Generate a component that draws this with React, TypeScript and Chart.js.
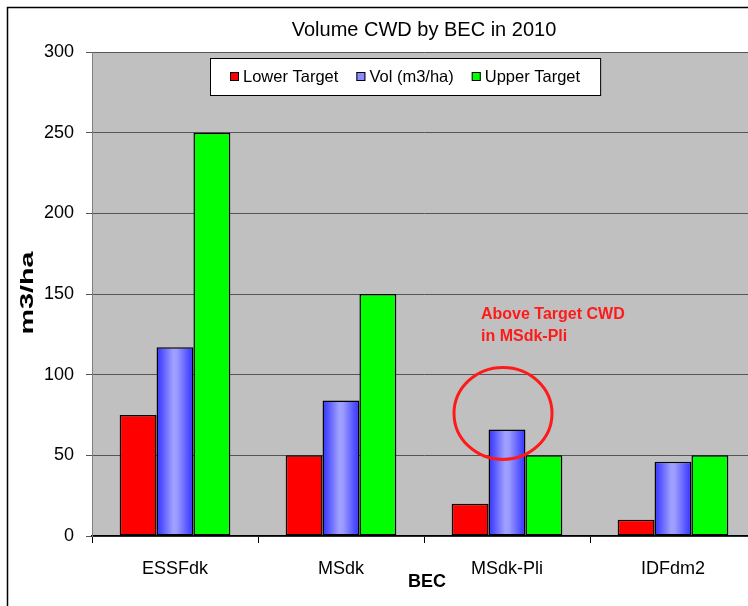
import React, { useEffect, useRef } from "react";
import { Chart, registerables } from "chart.js";

Chart.register(...registerables);

const categories = ["ESSFdk", "MSdk", "MSdk-Pli", "IDFdm2"];
const lowerTarget = [75, 50, 20, 10];
const volume = [117, 84, 66, 46];
const upperTarget = [250, 150, 50, 50];
const seriesLabels = ["Lower Target", "Vol (m3/ha)", "Upper Target"];
const seriesColors = ["#ff0000", "#8c8cff", "#00ff00"];
const yTicks = [0, 50, 100, 150, 200, 250, 300];
const titleText = "Volume CWD by BEC in 2010";
const xTitle = "BEC";
const yTitle = "m3/ha";
const noteLines = ["Above Target CWD", "in MSdk-Pli"];
const noteCategory = "MSdk-Pli";
const noteCircleValue = 76;
const noteTextValue = 137;

const FONT = "'Liberation Sans', Arial, sans-serif";

const customPlugin = {
  id: "customDecor",
  beforeDraw(chart: any) {
    const { ctx, chartArea: a } = chart;
    ctx.save();
    ctx.fillStyle = "#ffffff";
    ctx.fillRect(0, 0, chart.width, chart.height);
    ctx.fillStyle = "#c0c0c0";
    ctx.fillRect(a.left, a.top, a.right - a.left, a.bottom - a.top);
    ctx.restore();
  },
  beforeDatasetsDraw(chart: any) {
    const meta = chart.getDatasetMeta(1);
    meta.data.forEach((bar: any) => {
      const x0 = bar.x - bar.width / 2;
      const x1 = bar.x + bar.width / 2;
      const g = chart.ctx.createLinearGradient(x0, 0, x1, 0);
      g.addColorStop(0, "#3030ff");
      g.addColorStop(0.45, "#a0a0ff");
      g.addColorStop(0.55, "#9c9cff");
      g.addColorStop(1, "#3030ff");
      bar.options.backgroundColor = g;
    });
  },
  afterDraw(chart: any) {
    const { ctx, chartArea: a } = chart;
    const ys = chart.scales.y;
    ctx.save();

    // Title
    ctx.fillStyle = "#000";
    ctx.font = `20px ${FONT}`;
    ctx.textAlign = "center";
    ctx.textBaseline = "middle";
    ctx.fillText(titleText, (a.left + a.right) / 2, 30);

    // X title
    ctx.font = `bold 18px ${FONT}`;
    ctx.fillText(xTitle, (a.left + a.right) / 2 + 3, 582);

    // Y title (stretched like the original rendering)
    ctx.save();
    ctx.translate(28, (a.top + a.bottom) / 2 - 1);
    ctx.rotate(-Math.PI / 2);
    ctx.scale(1.6, 1);
    ctx.fillText(yTitle, 0, 0);
    ctx.restore();

    // Legend
    ctx.font = `16.5px ${FONT}`;
    const boxLeft = 210;
    const boxTop = 58;
    const boxBottom = 95;
    const gap = 18;
    let x = boxLeft + 20;
    const items: { x: number; w: number }[] = [];
    seriesLabels.forEach((lab) => {
      const w = ctx.measureText(lab).width;
      items.push({ x, w });
      x += 9 + 4 + w + gap;
    });
    const boxRight = x - gap + 20;
    ctx.fillStyle = "#ffffff";
    ctx.fillRect(boxLeft, boxTop, boxRight - boxLeft, boxBottom - boxTop);
    ctx.strokeStyle = "#000";
    ctx.lineWidth = 1;
    ctx.strokeRect(boxLeft + 0.5, boxTop + 0.5, boxRight - boxLeft, boxBottom - boxTop);
    const cy = (boxTop + boxBottom) / 2;
    seriesLabels.forEach((lab, i) => {
      const it = items[i];
      ctx.fillStyle = seriesColors[i];
      ctx.fillRect(it.x, cy - 4.5, 9, 9);
      ctx.strokeStyle = "#000";
      ctx.lineWidth = 1;
      ctx.strokeRect(it.x + 0.5, cy - 4.5 + 0.5, 8, 8);
      ctx.fillStyle = "#000";
      ctx.textAlign = "left";
      ctx.textBaseline = "middle";
      ctx.fillText(lab, it.x + 13, cy + 0.5);
    });

    // Annotation
    const idx = categories.indexOf(noteCategory);
    const bar = chart.getDatasetMeta(1).data[idx];
    const cxp = bar.x - 4;
    const cyp = ys.getPixelForValue(noteCircleValue);
    ctx.strokeStyle = "#ff1a1a";
    ctx.lineWidth = 3;
    ctx.beginPath();
    ctx.ellipse(cxp, cyp, 49, 46, 0, 0, Math.PI * 2);
    ctx.stroke();
    ctx.fillStyle = "#ff1a1a";
    ctx.font = `bold 16px ${FONT}`;
    ctx.textAlign = "left";
    ctx.textBaseline = "middle";
    const ty = ys.getPixelForValue(noteTextValue);
    noteLines.forEach((ln, i) => {
      ctx.fillText(ln, bar.x - 26, ty + i * 22);
    });

    // Outer border
    ctx.strokeStyle = "#000";
    ctx.lineWidth = 1.5;
    ctx.beginPath();
    ctx.moveTo(7.5, chart.height + 5);
    ctx.lineTo(7.5, 7.5);
    ctx.lineTo(chart.width + 5, 7.5);
    ctx.stroke();

    ctx.restore();
  },
};

export default function App() {
  const ref = useRef<HTMLCanvasElement | null>(null);
  useEffect(() => {
    if (!ref.current) return;
    const n = categories.length;
    const chart = new Chart(ref.current, {
      type: "bar",
      data: {
        labels: categories,
        datasets: [
          {
            label: seriesLabels[0],
            data: lowerTarget,
            backgroundColor: seriesColors[0],
            borderColor: "#000",
            borderWidth: 1.5,
            borderSkipped: false,
          },
          {
            label: seriesLabels[1],
            data: volume,
            backgroundColor: new Array(n).fill(seriesColors[1]),
            borderColor: "#000",
            borderWidth: 1.5,
            borderSkipped: false,
          },
          {
            label: seriesLabels[2],
            data: upperTarget,
            backgroundColor: seriesColors[2],
            borderColor: "#000",
            borderWidth: 1.5,
            borderSkipped: false,
          },
        ] as any,
      },
      options: {
        animation: false,
        responsive: false,
        events: [],
        layout: { padding: { left: 0, top: 52, right: 14, bottom: 0 } },
        datasets: { bar: { categoryPercentage: 1 / 1.5, barPercentage: 1 } },
        plugins: {
          legend: { display: false },
          title: { display: false },
          tooltip: { enabled: false },
        },
        scales: {
          x: {
            offset: true,
            grid: {
              offset: true,
              drawOnChartArea: false,
              drawTicks: true,
              tickLength: 7,
              color: "#000",
              lineWidth: 1,
            },
            border: { color: "#000", width: 1.5 },
            ticks: {
              color: "#000",
              font: { family: FONT, size: 18 },
              padding: 15,
              maxRotation: 0,
            },
            afterFit(scale: any) {
              scale.height = 70;
            },
          },
          y: {
            min: 0,
            max: 300,
            afterBuildTicks(scale: any) {
              scale.ticks = yTicks.map((v) => ({ value: v }));
            },
            grid: {
              color: "#555",
              lineWidth: 1,
              tickLength: 6,
              drawTicks: true,
            },
            border: { color: "#808080", width: 1 },
            ticks: {
              color: "#000",
              font: { family: FONT, size: 18 },
              padding: 12,
            },
            afterFit(scale: any) {
              scale.width = 92;
            },
          },
        },
      },
      plugins: [customPlugin],
    });
    return () => chart.destroy();
  }, []);
  return (
    <div
      style={{
        position: "fixed",
        left: 0,
        top: 0,
        width: 748,
        height: 606,
        overflow: "hidden",
        background: "#fff",
      }}
    >
      <canvas ref={ref} width={770} height={606} style={{ display: "block" }} />
    </div>
  );
}
